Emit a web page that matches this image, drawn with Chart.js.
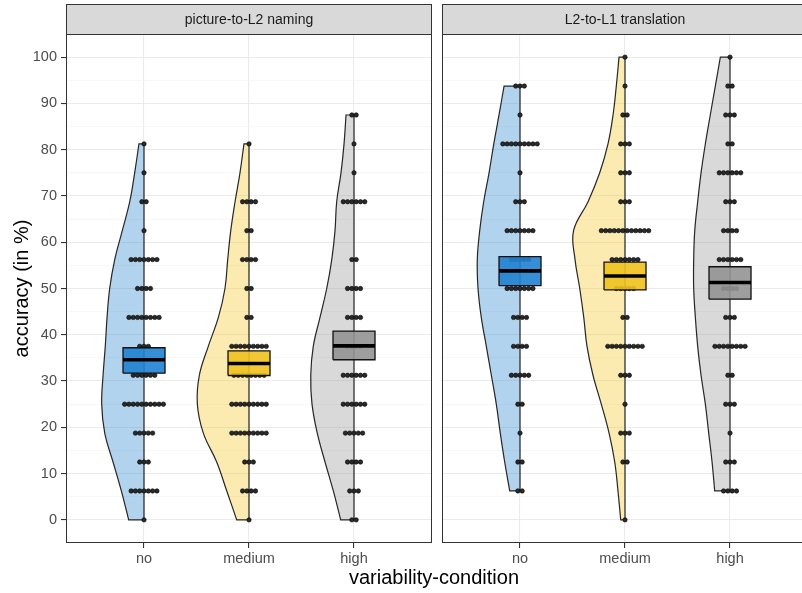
<!DOCTYPE html>
<html>
<head>
<meta charset="utf-8">
<script src="https://cdn.jsdelivr.net/npm/chart.js@4.4.1/dist/chart.umd.min.js"></script>
<style>
  body { margin: 0; background: #fff; }
  #wrap { width: 802px; height: 593px; overflow: hidden; }
</style>
</head>
<body>
<div id="wrap"><canvas id="myChart" width="802" height="593"></canvas></div>
<script>
let panels = ['picture-to-L2 naming', 'L2-to-L1 translation'];
let categories = ['no', 'medium', 'high'];
let yTicks = [0, 10, 20, 30, 40, 50, 60, 70, 80, 90, 100];

// accuracy steps (1/16)
let levels = [0, 6.25, 12.5, 18.75, 25, 31.25, 37.5, 43.75, 50, 56.25, 62.5, 68.75, 75, 81.25, 87.5, 93.75, 100];

// participants per level
let countsNaming = [
  [1, 7, 3, 5, 10, 6, 3, 8, 4, 7, 1, 2, 1, 1, 0, 0, 0],
  [1, 4, 3, 9, 9, 8, 9, 2, 2, 4, 2, 4, 0, 1, 0, 0, 0],
  [2, 3, 4, 5, 6, 6, 4, 4, 4, 2, 0, 6, 1, 1, 2, 0, 0]
];
let countsTranslation = [
  [0, 2, 2, 1, 2, 5, 4, 4, 7, 5, 7, 3, 1, 9, 1, 3, 0],
  [1, 0, 2, 3, 1, 3, 9, 2, 5, 7, 12, 3, 3, 3, 2, 1, 1],
  [0, 4, 3, 1, 3, 2, 8, 3, 4, 6, 4, 3, 6, 2, 3, 2, 1]
];

// half violin width (density, in category units) at each level
let violinNaming = [
  [0.146, 0.216, 0.295, 0.374, 0.403, 0.390, 0.369, 0.352, 0.327, 0.279, 0.207, 0.136, 0.089, 0.048, null, null, null],
  [0.117, 0.212, 0.308, 0.435, 0.492, 0.473, 0.388, 0.292, 0.229, 0.203, 0.174, 0.133, 0.086, 0.048, null, null, null],
  [0.127, 0.197, 0.276, 0.350, 0.400, 0.412, 0.388, 0.324, 0.260, 0.212, 0.181, 0.165, 0.124, 0.095, 0.076, null, null]
];
let violinTranslation = [
  [null, 0.098, 0.146, 0.188, 0.226, 0.273, 0.321, 0.369, 0.400, 0.407, 0.384, 0.346, 0.295, 0.250, 0.200, 0.152, null],
  [0.041, 0.067, 0.098, 0.152, 0.226, 0.305, 0.362, 0.393, 0.431, 0.476, 0.490, 0.352, 0.241, 0.162, 0.114, 0.083, 0.057],
  [null, 0.146, 0.171, 0.203, 0.235, 0.276, 0.308, 0.330, 0.346, 0.346, 0.336, 0.308, 0.276, 0.235, 0.188, 0.140, 0.092]
];

// mean and +/- SE
let meanNaming = [34.6, 33.8, 37.6];
let lowNaming = [31.7, 31.2, 34.6];
let highNaming = [37.2, 36.5, 40.8];
let meanTranslation = [53.8, 52.7, 51.3];
let lowTranslation = [50.6, 49.7, 47.7];
let highTranslation = [56.9, 55.7, 54.7];

let violinColors = ['rgba(42,134,209,0.36)', 'rgba(245,200,40,0.36)', 'rgba(150,150,150,0.36)'];
let boxColors = ['rgba(32,130,210,0.9)', 'rgba(240,194,30,0.9)', 'rgba(148,148,148,0.9)'];

// panel layout in x units
const X_LO = 0.257, X_HI = 3.743, GAP = 0.095;
const SHIFT = X_HI - X_LO + GAP;
const DOT_STEP = 0.041;
const BOX_HW = 0.2;

let panelData = [
  {counts: countsNaming, violin: violinNaming, mean: meanNaming, lo: lowNaming, hi: highNaming},
  {counts: countsTranslation, violin: violinTranslation, mean: meanTranslation, lo: lowTranslation, hi: highTranslation}
];

let datasets = [];
let xTickPos = [];

panelData.forEach((pd, p) => {
  categories.forEach((cat, c) => {
    let cx = p * SHIFT + c + 1;
    xTickPos.push(cx);

    // half violin (left side), corners doubled so the straight edges stay straight
    let w = pd.violin[c];
    let idx = [];
    w.forEach((v, i) => { if (v !== null) idx.push(i); });
    let a = idx[0], b = idx[idx.length - 1];
    let pts = [];
    pts.push({x: cx, y: levels[a]}, {x: cx, y: levels[a]});
    pts.push({x: cx - w[a], y: levels[a]}, {x: cx - w[a], y: levels[a]});
    for (let i = a + 1; i < b; i++) pts.push({x: cx - w[i], y: levels[i]});
    pts.push({x: cx - w[b], y: levels[b]}, {x: cx - w[b], y: levels[b]});
    pts.push({x: cx, y: levels[b]}, {x: cx, y: levels[b]});
    pts.push({x: cx, y: levels[a]});
    datasets.push({
      data: pts, order: 4, fill: 'shape', tension: 0.4,
      backgroundColor: violinColors[c], borderColor: '#262626', borderWidth: 1.2,
      pointRadius: 0
    });

    // dots, stacked around the centre
    let dots = [];
    pd.counts[c].forEach((n, i) => {
      for (let k = 0; k < n; k++) dots.push({x: cx + (k - (n - 1) / 2) * DOT_STEP, y: levels[i]});
    });
    datasets.push({
      data: dots, order: 3, showLine: false,
      pointRadius: 2.2, pointBackgroundColor: '#2a2a2a', pointBorderColor: '#000', pointBorderWidth: 0.6
    });

    // mean +/- SE box
    datasets.push({
      data: [
        {x: cx - BOX_HW, y: pd.lo[c]}, {x: cx + BOX_HW, y: pd.lo[c]},
        {x: cx + BOX_HW, y: pd.hi[c]}, {x: cx - BOX_HW, y: pd.hi[c]},
        {x: cx - BOX_HW, y: pd.lo[c]}
      ],
      order: 2, fill: 'shape', tension: 0,
      backgroundColor: boxColors[c], borderColor: '#111', borderWidth: 1.3, pointRadius: 0
    });

    // mean line
    datasets.push({
      data: [{x: cx - BOX_HW, y: pd.mean[c]}, {x: cx + BOX_HW, y: pd.mean[c]}],
      order: 1, tension: 0, borderColor: '#000', borderWidth: 3.6, borderCapStyle: 'butt',
      pointRadius: 0
    });
  });
});

let yGrid = [];
yTicks.forEach((v, i) => {
  yGrid.push(v);
  if (i < yTicks.length - 1) yGrid.push((v + yTicks[i + 1]) / 2);
});

let facets = {
  id: 'facets',
  beforeDatasetsDraw(chart) {
    let {ctx, chartArea} = chart;
    let x = chart.scales.x;
    let g0 = x.getPixelForValue(X_HI), g1 = x.getPixelForValue(SHIFT + X_LO);
    ctx.save();
    ctx.fillStyle = '#fff';
    ctx.fillRect(g0, chartArea.top - 1, g1 - g0, chartArea.bottom - chartArea.top + 2);
    ctx.restore();
  },
  afterDraw(chart) {
    let {ctx, chartArea} = chart;
    let x = chart.scales.x;
    ctx.save();
    panels.forEach((name, p) => {
      let l = Math.round(x.getPixelForValue(p * SHIFT + X_LO)) + 0.5;
      let r = Math.round(x.getPixelForValue(p * SHIFT + X_HI)) - 0.5;
      let t = chartArea.top + 0.5, b = Math.round(chartArea.bottom) - 0.5;
      ctx.strokeStyle = '#333';
      ctx.lineWidth = 1;
      ctx.strokeRect(l, t, r - l, b - t);
      // strip
      ctx.fillStyle = '#d9d9d9';
      ctx.fillRect(l, 4.5, r - l, t - 4.5);
      ctx.strokeRect(l, 4.5, r - l, t - 4.5);
      ctx.fillStyle = '#1a1a1a';
      ctx.font = '14px "Liberation Sans", Arial, sans-serif';
      ctx.textAlign = 'center';
      ctx.textBaseline = 'middle';
      ctx.fillText(name, (l + r) / 2, (4.5 + t) / 2 + 0.5);
    });
    ctx.restore();
  }
};

Chart.defaults.font.family = '"Liberation Sans", Arial, sans-serif';

let myChart = new Chart(document.getElementById('myChart').getContext('2d'), {
  type: 'line',
  data: {datasets: datasets},
  plugins: [facets],
  options: {
    responsive: false,
    animation: false,
    layout: {autoPadding: false, padding: {top: 34, left: 0, right: 0, bottom: 0}},
    plugins: {legend: {display: false}, tooltip: {enabled: false}},
    scales: {
      x: {
        type: 'linear',
        min: X_LO,
        max: X_LO + 736 / 105,
        afterFit: s => { s.height = 50; s.paddingLeft = 0; s.paddingRight = 0; },
        afterBuildTicks: s => { s.ticks = xTickPos.map(v => ({value: v})); },
        border: {display: false},
        grid: {color: '#ebebeb', lineWidth: 1.1, tickColor: '#333', tickLength: 5},
        ticks: {
          autoSkip: false, maxRotation: 0, padding: 2,
          color: '#4d4d4d', font: {size: 14.5},
          callback: (v, i) => categories[i % categories.length]
        },
        title: {display: true, text: 'variability-condition', color: '#000', font: {size: 20}, padding: {top: 0, bottom: 3}}
      },
      y: {
        type: 'linear',
        min: -5,
        max: 105,
        afterFit: s => { s.width = 66; s.paddingTop = 0; s.paddingBottom = 0; },
        afterBuildTicks: s => { s.ticks = yGrid.map(v => ({value: v})); },
        border: {display: false},
        grid: {
          color: c => yTicks.includes(c.tick.value) ? '#ebebeb' : '#f4f4f4',
          lineWidth: c => yTicks.includes(c.tick.value) ? 1.1 : 0.7,
          tickColor: c => yTicks.includes(c.tick.value) ? '#333' : 'rgba(0,0,0,0)',
          tickLength: 5
        },
        ticks: {
          autoSkip: false, padding: 4,
          color: '#4d4d4d', font: {size: 14.5},
          callback: v => yTicks.includes(v) ? v : ''
        },
        title: {display: true, text: 'accuracy (in %)', color: '#000', font: {size: 20}, padding: {top: 10, bottom: 0}}
      }
    }
  }
});
</script>
</body>
</html>
